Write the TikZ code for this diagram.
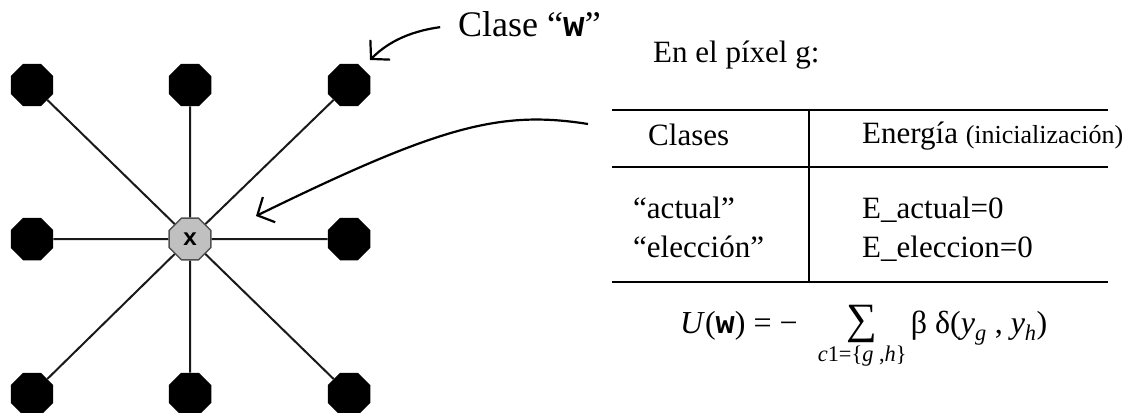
\documentclass[tikz,border=0pt]{standalone}
\usepackage{fontspec}
\usepackage{amsmath}
\usepackage{graphicx}
\setmainfont{Liberation Serif}
\setmonofont{Liberation Mono}
\usetikzlibrary{arrows.meta,shapes.geometric}
\definecolor{pixdark}{RGB}{25,25,25}
\definecolor{pixgrey}{RGB}{192,192,192}
\definecolor{pixedge}{RGB}{80,80,80}

\begin{document}
\begin{tikzpicture}[x=1pt,y=-1pt,
  every node/.style={font=\fontsize{31}{34}\selectfont,inner sep=0pt},
  txt/.style={anchor=base west},
  pix/.style={regular polygon,regular polygon sides=8,minimum size=46pt,fill=black},
  cen/.style={regular polygon,regular polygon sides=8,minimum size=45pt,fill=pixgrey,draw=pixedge,line width=1.5pt,font=\fontsize{24}{24}\selectfont\ttfamily\bfseries},
  link/.style={pixdark,line width=2pt},
  rule/.style={black,line width=2.6pt},
  ar/.style={-{Straight Barb[length=13pt,width=28pt,line width=2.2pt]},black,line width=2.2pt}]
\useasboundingbox (0,0) rectangle (1134,412);
% vecinos
\node[pix] (nw) at (32,85) {};
\node[pix] (n) at (190,85) {};
\node[pix] (ne) at (349,85) {};
\node[pix] (w) at (32,239) {};
\node[pix] (e) at (349,239) {};
\node[pix] (sw) at (32,394) {};
\node[pix] (s) at (190,394) {};
\node[pix] (se) at (349,394) {};
\node[cen] (g) at (190,239) {x};
\foreach \x in {nw,n,ne,w,e,sw,s,se} \draw[link] (g) -- (\x);
% etiquetas
\node[txt,font=\fontsize{36}{38}\selectfont] (clase) at (458,37) {Clase ``\texttt{\textbf{w}}''};
\coordinate (tipw) at (370,60);
\draw[ar,shorten <=18pt] (clase.west) .. controls (405,32) and (385,45) .. (tipw);
\node[txt] (pixel) at (653,63) {En el píxel g:};
% tabla
\coordinate (t1) at (612,110);
\coordinate (t2) at (1108,110);
\coordinate (m1) at (612,167);
\coordinate (m2) at (1108,167);
\coordinate (b1) at (612,282);
\coordinate (b2) at (1108,282);
\coordinate (v1) at (809,110);
\coordinate (v2) at (809,282);
\draw[rule] (t1) -- (t2);
\draw[rule] (m1) -- (m2);
\draw[rule] (b1) -- (b2);
\draw[black,line width=2pt] (v1) -- (v2);
\node[txt] (clases) at (648,145) {Clases};
\node[txt] (energia) at (862,143) {Energía {\fontsize{26}{28}\selectfont(inicialización)}};
\node[txt] (actual) at (633,218) {``actual''};
\node[txt] (eleccion) at (633,257) {``elección''};
\node[txt] (eact) at (862,218) {E\_actual=0};
\node[txt] (eelec) at (862,257) {E\_eleccion=0};
\node[txt,font=\fontsize{32}{34}\selectfont] (formula) at (680,333) {$\text{\textit{U}(\texttt{\textbf{w}}) = −\hspace{16pt}}\mathop{\text{\scalebox{1.35}{∑}}}\limits_{\rule{0pt}{12pt}\text{\itshape c\upshape 1=\{\itshape g \upshape,\itshape h\upshape\}}}\text{β δ(\textit{y}}_{\text{\itshape g}}\text{ , \textit{y}}_{\text{\itshape h}}\text{)}$};
\coordinate (tipg) at (256,216);
\draw[ar] (588,124) .. controls (500,110) and (440,126) .. (tipg);
\end{tikzpicture}
\end{document}
